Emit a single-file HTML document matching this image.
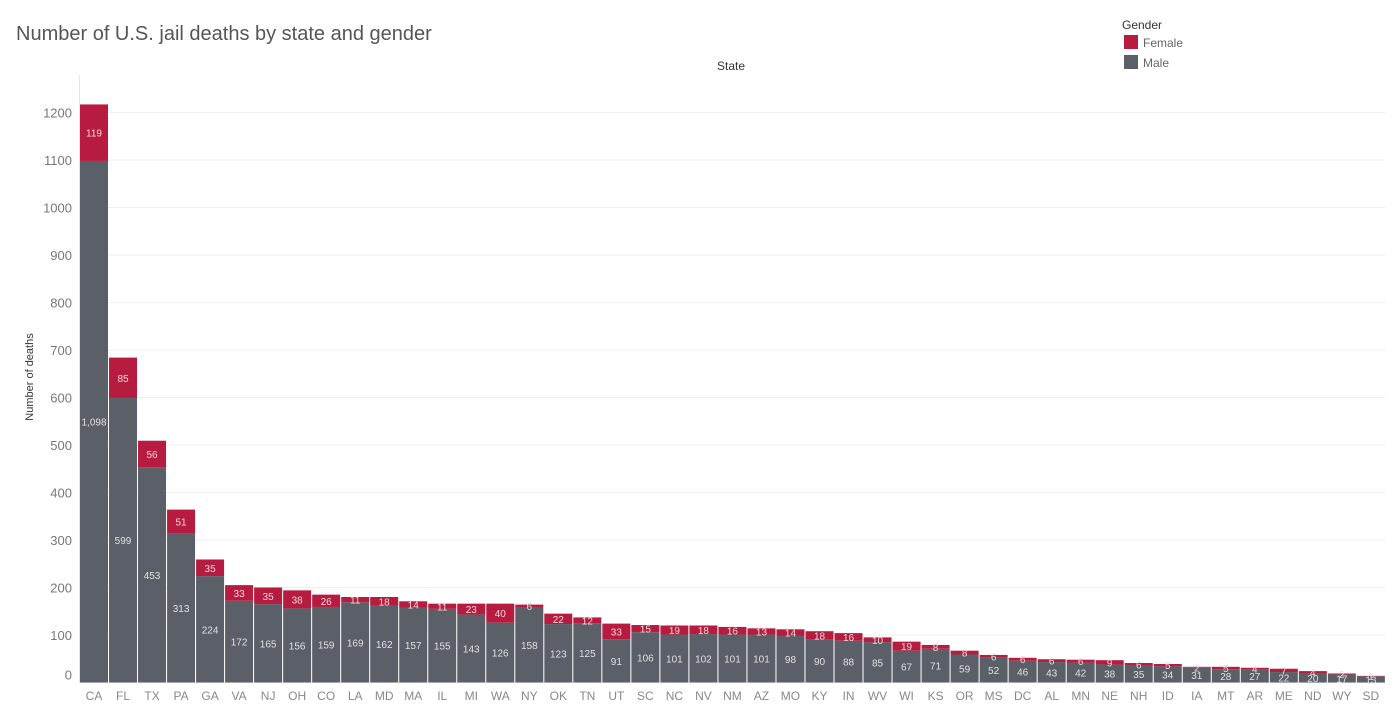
<!DOCTYPE html>
<html><head><meta charset="utf-8"><style>
body{margin:0;background:#fff;font-family:"Liberation Sans",sans-serif;}
svg text{font-family:"Liberation Sans",sans-serif;}
</style></head><body>
<svg width="1396" height="715">
<text x="16" y="40" font-size="20" fill="#555">Number of U.S. jail deaths by state and gender</text>
<text x="731" y="70" font-size="12" fill="#333" text-anchor="middle">State</text>
<text transform="translate(33,377) rotate(-90)" font-size="11" fill="#333" text-anchor="middle">Number of deaths</text>
<g>
<text x="1122" y="29" font-size="12" fill="#333">Gender</text>
<rect x="1124" y="35" width="14" height="14" fill="#b71c40"/>
<text x="1143" y="47" font-size="12" fill="#666">Female</text>
<rect x="1124" y="55" width="14" height="14" fill="#5b5f67"/>
<text x="1143" y="67" font-size="12" fill="#666">Male</text>
</g>
<g id="grid"></g><g id="bars"></g><g id="axes"></g>
</svg>
<script>
const states=["CA","FL","TX","PA","GA","VA","NJ","OH","CO","LA","MD","MA","IL","MI","WA","NY","OK","TN","UT","SC","NC","NV","NM","AZ","MO","KY","IN","WV","WI","KS","OR","MS","DC","AL","MN","NE","NH","ID","IA","MT","AR","ME","ND","WY","SD"];
const male=[1098,599,453,313,224,172,165,156,159,169,162,157,155,143,126,158,123,125,91,106,101,102,101,101,98,90,88,85,67,71,59,52,46,43,42,38,35,34,31,28,27,22,20,17,13];
const female=[119,85,56,51,35,33,35,38,26,11,18,14,11,23,40,6,22,12,33,15,19,18,16,13,14,18,16,10,19,8,8,6,6,6,6,9,6,5,2,5,4,7,4,2,1];
const yTicks=[0,100,200,300,400,500,600,700,800,900,1000,1100,1200];
const NS="http://www.w3.org/2000/svg";
const x0=80,pitch=29.02,bw=28,y0=682.5,k=0.475;
const y=v=>y0-v*k, x=i=>x0+i*pitch;
function mk(t,a,p){const e=document.createElementNS(NS,t);for(const n in a)e.setAttribute(n,a[n]);p.appendChild(e);return e;}
const grid=document.getElementById('grid'),bars=document.getElementById('bars'),axes=document.getElementById('axes');
yTicks.forEach(v=>{
 const l=mk('line',{x1:80,x2:1385,y1:y(v),y2:y(v),stroke:'#efefef'},grid);
 
 
 const t=mk('text',{x:72,y:v===0?y(v)-3:y(v)+5,'font-size':13,fill:'#777','text-anchor':'end'},axes);
 t.textContent=v;
 
 
});
mk('line',{x1:79.5,x2:79.5,y1:75,y2:683,stroke:'#e4e4e4'},axes);
states.forEach((s,i)=>{
 const m=male[i],f=female[i],bx=x(i);
 const rm=mk('rect',{x:bx,y:y(m),width:bw,height:m*k,fill:'#5b5f67'},bars);
 
 
 const rf=mk('rect',{x:bx,y:y(m+f),width:bw,height:f*k,fill:'#b71c40'},bars);
 
 
 const tm=mk('text',{x:bx+bw/2,y:(y(m)+y0)/2+4,'font-size':10,fill:'#e0e0e0','text-anchor':'middle'},bars);
 tm.textContent=m.toLocaleString('en-US');
 
 
 const tf=mk('text',{x:bx+bw/2,y:(y(m)+y(m+f))/2+4,'font-size':10,fill:'#f0d8dd','text-anchor':'middle'},bars);
 tf.textContent=f;
 
 
 const tx=mk('text',{x:bx+bw/2,y:700,'font-size':12,fill:'#888','text-anchor':'middle'},axes);
 tx.textContent=s;
 
 
});
</script>
</body></html>
